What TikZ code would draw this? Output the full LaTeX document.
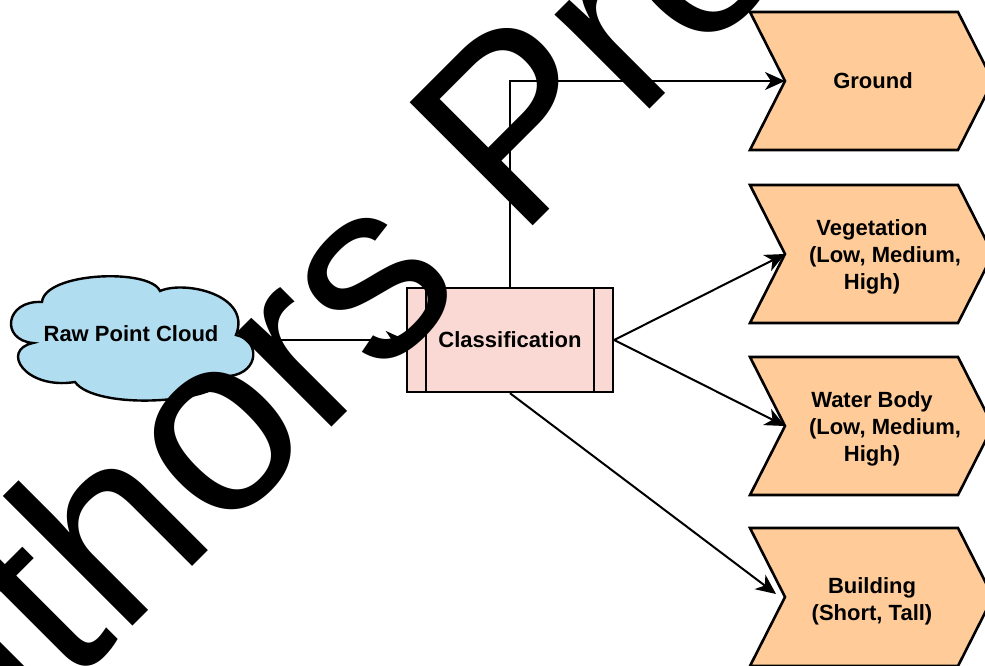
\documentclass[tikz,border=0pt]{standalone}
\usepackage{fontspec}
\setmainfont{Liberation Sans}
\usetikzlibrary{arrows.meta}
\definecolor{chevfill}{HTML}{FFCC99}
\definecolor{boxfill}{HTML}{FAD9D5}
\definecolor{cloudfill}{HTML}{B1DDF0}
\begin{document}
\begin{tikzpicture}[x=1pt,y=-1pt,
  lbl/.style={font=\bfseries\fontsize{22}{27}\selectfont, align=center, inner sep=0pt},
  conn/.style={line width=2pt, -{Stealth[length=20pt,width=18pt,inset=6pt]}},
  chev/.style={draw=black, fill=chevfill, line width=2.6pt, line join=miter},
  wmark/.style={font=\fontsize{253}{253}\selectfont, rotate=45, anchor=base west, inner sep=0pt, text=black}
]
\useasboundingbox (0,0) rectangle (985,666);
\fill[white] (0,0) rectangle (985,666);

% cloud
\draw[line width=2.4pt, fill=cloudfill]
  (42,302) .. controls (45,272) and (150,268) .. (160,291)
  .. controls (185,280) and (252,295) .. (236,335)
  .. controls (260,340) and (260,372) .. (230,376)
  .. controls (215,405) and (95,410) .. (75,382)
  .. controls (25,390) and (0,350) .. (33,343)
  .. controls (0,340) and (5,300) .. (42,302) -- cycle;
\node[lbl] (rpc) at (131,334) {Raw Point Cloud};
\coordinate (cloudout) at (248,340);

% classification box
\node[draw, fill=boxfill, line width=2.4pt, minimum width=206pt, minimum height=104pt, inner sep=0pt, font=\bfseries\fontsize{22}{27}\selectfont] (cls) at (510,340) {Classification};
\draw[line width=2.4pt] ([xshift=20pt]cls.north west) -- ([xshift=20pt]cls.south west);
\draw[line width=2.4pt] ([xshift=-20pt]cls.north east) -- ([xshift=-20pt]cls.south east);

% chevrons
\draw[chev] (750,12) -- (958,12) -- (993,81) -- (958,150) -- (750,150) -- (785,81) -- cycle;
\coordinate (groundin) at (785,81);
\node[lbl] (ground) at (873,81) {Ground};

\draw[chev] (750,185) -- (958,185) -- (993,254) -- (958,323) -- (750,323) -- (785,254) -- cycle;
\coordinate (vegin) at (785,254);
\node[lbl] (veg) at (872,257) {Vegetation\\\hspace*{26pt}(Low, Medium,\\High)};

\draw[chev] (750,357) -- (958,357) -- (993,426) -- (958,495) -- (750,495) -- (785,426) -- cycle;
\coordinate (waterin) at (785,426);
\node[lbl] (water) at (872,429) {Water Body\\\hspace*{26pt}(Low, Medium,\\High)};

\draw[chev] (750,528) -- (958,528) -- (993,597) -- (958,666) -- (750,666) -- (785,597) -- cycle;
\coordinate (buildin) at (776,594);
\node[lbl] (build) at (872,601) {Building\\(Short, Tall)};

% connectors
\draw[conn] (cloudout) -- (cls.west);
\draw[conn] (cls.north) |- (groundin);
\draw[conn] (cls.east) -- (vegin);
\draw[conn] (cls.east) -- (waterin);
\draw[conn] (cls.south) -- (buildin);

% watermark
\node[wmark] (wm) at (-148,907) {Authors Preprint};
\end{tikzpicture}
\end{document}
